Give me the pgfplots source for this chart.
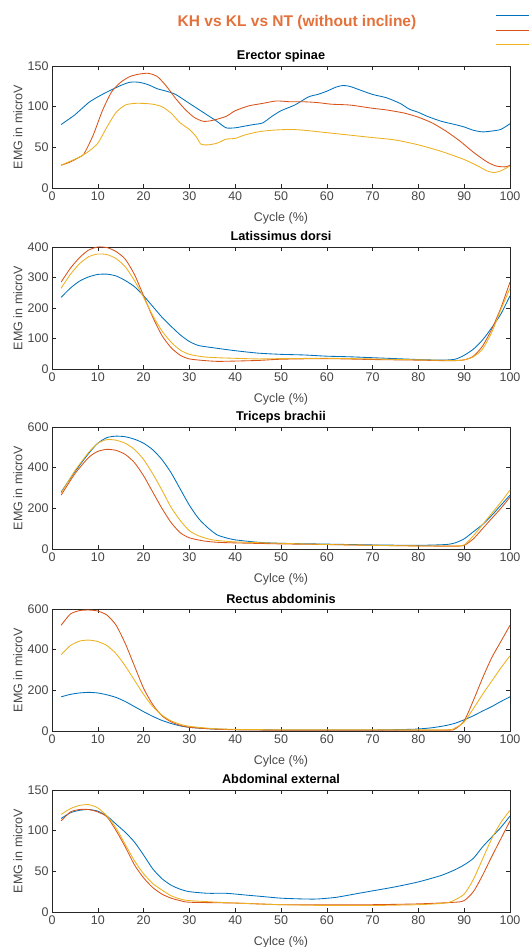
\documentclass[border=0pt]{standalone}
\usepackage{fontspec}
\setmainfont{Liberation Sans}
\usepackage{pgfplots}
\pgfplotsset{compat=1.18}
\definecolor{mblue}{RGB}{0,114,189}
\definecolor{morange}{RGB}{217,83,25}
\definecolor{myellow}{RGB}{237,177,32}
\definecolor{titleorange}{RGB}{228,112,58}
\definecolor{axgray}{RGB}{38,38,38}

\pgfplotsset{
  emg/.style={
    scale only axis, width=458pt, height=122pt,
    xmin=0, xmax=100, xtick={0,10,...,100},
    tick align=inside, tick pos=both,
    major tick length=4pt,
    axis line style={axgray, line width=0.5pt},
    every tick/.style={axgray, line width=0.5pt},
    tick label style={font=\fontsize{12.5}{14}\selectfont, text=axgray!85},
    /pgf/number format/assume math mode=true,
    ylabel={EMG in microV},
    label style={font=\fontsize{12.5}{14}\selectfont, text=axgray!85},
    ylabel style={at={(axis description cs:-0.0742,0.5)}, anchor=center},
    xlabel style={at={(axis description cs:0.5,-0.25)}, anchor=center},
    title style={font=\bfseries\fontsize{12.7}{14}\selectfont, at={(0.5,1)}, anchor=base, yshift=0pt},
    every axis plot/.append style={line width=0.85pt, line join=round, smooth, tension=0.4},
    axis background/.style={fill=white},
  }
}

\begin{document}
\begin{tikzpicture}
\useasboundingbox (0pt,0pt) rectangle (528pt,947pt);
\node[font=\bfseries\fontsize{15.5}{18}\selectfont, text=titleorange] at (297pt,924pt) {KH vs KL vs NT (without incline)};

% Erector spinae
\begin{axis}[emg, at={(52pt,759pt)}, anchor=south west,
  ymin=0, ymax=150, ytick={0,50,100,150},
  title={Erector spinae}, xlabel={Cycle (\%)},
  legend style={draw=none, fill=none, at={(axis description cs:0.961,1.49)}, anchor=north west,
    font=\fontsize{12.5}{14}\selectfont, row sep=0pt},
  legend image code/.code={\draw[#1] (0pt,0pt) -- (34pt,0pt);}]
\addplot[mblue] coordinates {(2,78) (3,82) (5,90) (8,105) (10,112) (12,118) (15,126) (17,130) (19,130) (21,127) (23,122) (25,119) (27,115) (30,104) (33,93) (36,82) (38,74) (40,74) (42,76) (44,78) (46,80) (48,88) (50,95) (53,102) (56,112) (58,115) (60,119) (62,124) (63.5,126) (65,125) (67,121) (70,115) (73,111) (76,104) (78,97) (80,93) (82,88) (85,82) (88,78) (90,75) (92,71) (94,69) (96,70) (98,72) (100,79)};
\addlegendentry{\rule{0pt}{9pt}}
\addplot[morange] coordinates {(2,28) (4,32) (6,38) (7,42) (9,65) (11,95) (13,118) (15,130) (17,137) (19,140) (21,141) (23,137) (25,125) (27,110) (29,97) (31,87) (33,82) (35,83) (38,88) (40,95) (43,101) (46,104) (49,107) (52,106) (55,106) (58,105) (61,103) (65,102) (70,98) (73,96) (77,92) (80,87) (83,80) (86,70) (89,58) (92,44) (95,32) (97,27) (99,26) (100,28)};
\addlegendentry{\rule{0pt}{9pt}}
\addplot[myellow] coordinates {(2,28) (4,33) (6,38) (8,45) (10,55) (12,75) (14,93) (16,102) (18,104) (20,104) (22,103) (24,100) (26,92) (28,80) (30,72) (31.5,63) (32.5,54) (34,53) (36,55) (38,60) (40,61) (42,65) (45,69) (48,71) (52,72) (55,71) (60,68) (65,65) (70,62) (75,59) (80,53) (85,45) (90,35) (93,27) (95,21) (96.5,19) (98,21) (100,27)};
\addlegendentry{\rule{0pt}{9pt}}
\end{axis}

% Latissimus dorsi
\begin{axis}[emg, at={(52pt,578pt)}, anchor=south west,
  ymin=0, ymax=400, ytick={0,100,200,300,400},
  title={Latissimus dorsi}, xlabel={Cycle (\%)}]
\addplot[mblue] coordinates {(2,235) (4,265) (6,288) (8,302) (10,310) (12,311) (14,305) (16,290) (18,270) (20,240) (22,205) (24,170) (26,140) (28,112) (30,90) (32,77) (35,70) (40,60) (45,52) (50,48) (55,46) (60,42) (65,40) (70,37) (75,34) (80,31) (85,29) (88,32) (90,45) (92,65) (94,95) (96,135) (98,180) (100,240)};
\addplot[morange] coordinates {(2,285) (4,330) (6,365) (8,390) (10,400) (12,398) (14,385) (16,360) (18,310) (20,240) (22,170) (24,110) (26,70) (28,45) (30,33) (33,28) (36,25) (40,26) (45,28) (50,32) (60,34) (70,31) (80,29) (87,27) (90,30) (92,42) (94,75) (96,130) (98,200) (100,285)};
\addplot[myellow] coordinates {(2,265) (4,310) (6,345) (8,368) (10,377) (12,375) (14,362) (16,335) (18,290) (20,235) (22,175) (24,125) (26,88) (28,62) (30,48) (33,40) (36,37) (40,35) (45,33) (50,34) (60,35) (70,33) (80,30) (88,28) (90,30) (92,40) (94,65) (96,120) (98,195) (100,265)};
\end{axis}

% Triceps brachii
\begin{axis}[emg, at={(52pt,398pt)}, anchor=south west,
  ymin=0, ymax=600, ytick={0,200,400,600},
  title={Triceps brachii}, xlabel={Cylce (\%)}]
\addplot[mblue] coordinates {(2,280) (5,380) (8,470) (10,520) (12,548) (14,555) (16,552) (18,540) (20,520) (22,488) (24,440) (26,375) (28,295) (30,215) (32,150) (34,105) (36,70) (38,55) (40,45) (45,33) (50,28) (60,24) (70,20) (80,18) (86,22) (88,30) (90,50) (92,85) (94,120) (96,165) (98,215) (100,265)};
\addplot[morange] coordinates {(2,265) (5,370) (8,450) (10,480) (12,490) (14,485) (16,465) (18,425) (20,360) (22,280) (24,200) (26,130) (28,80) (30,55) (33,40) (36,33) (40,30) (50,25) (60,22) (70,18) (80,15) (88,14) (90,18) (92,50) (94,100) (96,150) (98,200) (100,255)};
\addplot[myellow] coordinates {(2,275) (5,385) (8,475) (10,520) (12,538) (14,535) (16,520) (18,490) (20,440) (22,370) (24,290) (26,205) (28,140) (30,90) (32,65) (35,45) (40,35) (50,28) (60,22) (70,18) (80,15) (88,15) (90,20) (92,65) (94,120) (96,175) (98,230) (100,290)};
\end{axis}

% Rectus abdominis
\begin{axis}[emg, at={(52pt,216pt)}, anchor=south west,
  ymin=0, ymax=600, ytick={0,200,400,600},
  title={Rectus abdominis}, xlabel={Cylce (\%)}]
\addplot[mblue] coordinates {(2,168) (4,180) (6,187) (8,190) (10,187) (12,178) (14,165) (16,145) (18,120) (20,95) (22,72) (24,52) (26,37) (28,25) (30,18) (35,10) (40,7) (50,5) (60,5) (70,5) (78,8) (80,10) (83,16) (86,27) (88,38) (90,55) (92,75) (94,98) (96,120) (98,145) (100,168)};
\addplot[morange] coordinates {(2,520) (4,575) (6,592) (8,595) (10,590) (12,570) (14,520) (16,430) (18,320) (20,210) (22,130) (24,75) (26,45) (28,28) (30,18) (35,10) (40,6) (50,4) (70,4) (86,4) (88,10) (90,50) (92,150) (94,260) (96,360) (98,440) (100,520)};
\addplot[myellow] coordinates {(2,375) (4,420) (6,442) (8,447) (10,440) (12,420) (14,380) (16,320) (18,250) (20,180) (22,120) (24,78) (26,50) (28,33) (30,23) (35,12) (40,8) (50,6) (70,6) (86,6) (88,15) (90,45) (92,110) (94,180) (96,245) (98,310) (100,370)};
\end{axis}

% Abdominal external
\begin{axis}[emg, at={(52pt,35pt)}, anchor=south west,
  ymin=0, ymax=150, ytick={0,50,100,150},
  title={Abdominal external}, xlabel={Cylce (\%)}]
\addplot[mblue] coordinates {(2,115) (4,122) (6,125) (8,126) (10,124) (12,118) (14,108) (16,98) (18,86) (20,70) (22,53) (24,41) (26,33) (28,28) (30,25) (34,23) (38,23) (42,21) (46,19) (50,17) (55,16) (58,16) (62,18) (66,22) (70,26) (75,31) (80,37) (85,45) (88,52) (90,58) (92,66) (94,80) (96,92) (98,104) (100,118)};
\addplot[morange] coordinates {(2,112) (4,123) (6,126) (8,126) (10,123) (12,117) (14,100) (16,80) (18,58) (20,42) (22,30) (24,22) (26,17) (28,14) (30,12) (40,11) (50,9) (60,9) (70,9) (80,10) (88,12) (90,14) (92,25) (94,45) (96,68) (98,90) (100,112)};
\addplot[myellow] coordinates {(2,120) (4,127) (6,131) (8,132) (10,128) (12,118) (14,103) (16,83) (18,63) (20,47) (22,35) (24,27) (26,20) (28,16) (30,14) (40,11) (50,9) (60,8) (70,8) (80,9) (86,11) (88,15) (90,22) (92,40) (94,65) (96,90) (98,110) (100,125)};
\end{axis}
\end{tikzpicture}
\end{document}
